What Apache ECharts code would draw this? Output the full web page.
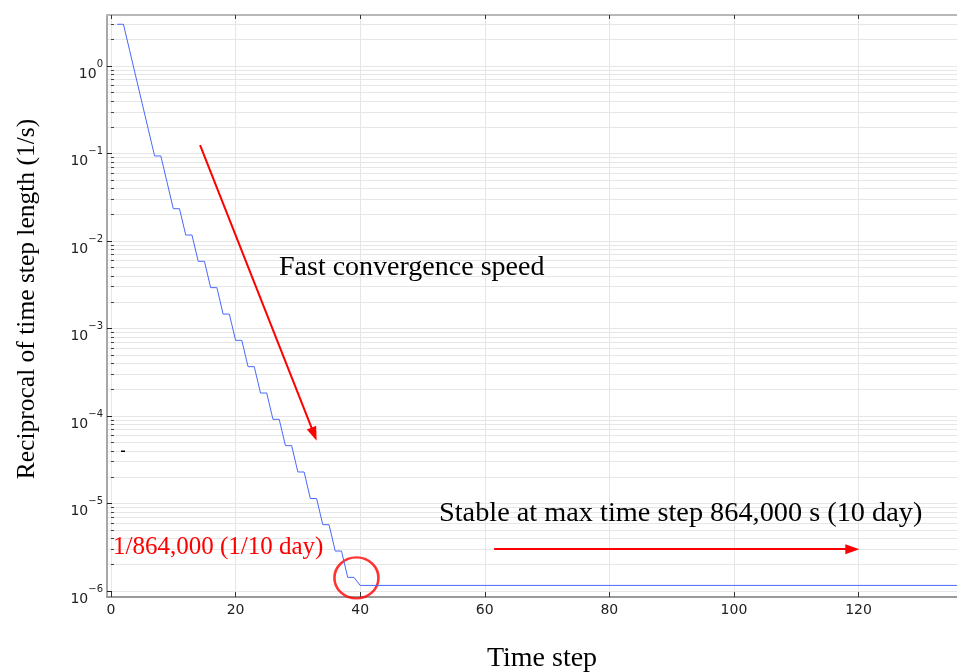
<!DOCTYPE html>
<html><head><meta charset="utf-8">
<script src="https://cdn.jsdelivr.net/npm/echarts@6/dist/echarts.min.js"></script>
<style>html,body{margin:0;padding:0;background:#fff}#c{width:957px;height:672px}</style>
</head><body><div id="c"></div>
<script>
// ---- data ----
const timeSteps = [1,2,3,4,5,6,7,8,9,10,11,12,13,14,15,16,17,18,19,20,21,22,23,24,25,26,27,28,29,30,31,32,33,34,35,36,37,38,39,40,140];
const reciprocalStep = [3,3,1.5,0.75,0.375,0.1875,0.0938,0.0938,0.0469,0.0234,0.0234,0.0117,0.0117,0.00586,0.00586,0.00293,0.00293,0.00146,0.00146,7.32e-4,7.32e-4,3.66e-4,3.66e-4,1.83e-4,1.83e-4,9.16e-5,9.16e-5,4.58e-5,4.58e-5,2.29e-5,2.29e-5,1.14e-5,1.14e-5,5.72e-6,5.72e-6,2.86e-6,2.86e-6,1.43e-6,1.43e-6,1.157e-6,1.157e-6];
const xTickLabels = [0,20,40,60,80,100,120];
const yDecades = [1e-6,1e-5,1e-4,1e-3,1e-2,1e-1,1];
const yMinorMultipliers = [2,3,4,5,6,7,8,9];
const xRange = [-0.64, 135.8];
const yRange = [8.53e-7, 3.83];
// annotations (data coordinates)
const arrowFast = [[14.3, 0.125], [32.6, 6.2e-5]];
const arrowStable = [[61.5, 3.0e-6], [119.0, 3.0e-6]];
const circleCenter = [39.4, 1.41e-6];

const yMinor = [];
yDecades.concat([10]).forEach(d => yMinorMultipliers.forEach(m => { yMinor.push(d * m); }));

const serif = '"Liberation Serif","Times New Roman",serif';
const sans = '"DejaVu Sans",sans-serif';
const chart = echarts.init(document.getElementById('c'), null, {renderer: 'canvas'});
const gridColor = '#e6e6e6';

chart.setOption({
  animation: false,
  backgroundColor: '#fff',
  grid: {left: 107, right: 0, top: 15, bottom: 75, containLabel: false, outerBoundsMode: 'none'},
  xAxis: [{
    type: 'value', min: xRange[0], max: xRange[1], position: 'bottom',
    name: 'Time step', nameLocation: 'middle', nameGap: 48,
    nameTextStyle: {fontFamily: serif, fontSize: 28, color: '#000', padding: [0, 0, 0, 20]},
    axisLine: {show: true, onZero: false, lineStyle: {color: '#9a9a9a', width: 2}},
    axisTick: {show: true, inside: true, length: 5, customValues: xTickLabels, lineStyle: {color: '#333'}},
    axisLabel: {customValues: xTickLabels, fontFamily: sans, fontSize: 14, color: '#222', margin: 6},
    splitLine: {show: true, lineStyle: {color: gridColor}}
  }, {
    type: 'value', min: xRange[0], max: xRange[1], position: 'top',
    axisLine: {show: true, onZero: false, lineStyle: {color: '#b8b8b8', width: 2}},
    axisTick: {show: true, inside: true, length: 4, customValues: xTickLabels, lineStyle: {color: '#333'}},
    axisLabel: {show: false}, splitLine: {show: false}
  }],
  yAxis: [{
    type: 'log', logBase: 10, min: yRange[0], max: yRange[1], position: 'left',
    name: 'Reciprocal of time step length (1/s)', nameLocation: 'middle', nameGap: 67,
    nameTextStyle: {fontFamily: serif, fontSize: 25.5, color: '#000', padding: [0, 0, 0, 14]},
    axisLine: {show: true, onZero: false, lineStyle: {color: '#a8a8a8', width: 2}},
    axisTick: {show: true, inside: true, length: 5, customValues: yDecades, lineStyle: {color: '#222'}},
    axisLabel: {
      customValues: yDecades, margin: 4, padding: [8, 0, 0, 0],
      formatter: v => '{b|10}{s|' + (Math.round(Math.log10(v)) < 0 ? '\u2212' + Math.abs(Math.round(Math.log10(v))) : '0') + '}',
      rich: {
        b: {fontFamily: sans, fontSize: 14, color: '#222', lineHeight: 22, verticalAlign: 'bottom'},
        s: {fontFamily: sans, fontSize: 10, color: '#222', lineHeight: 10, verticalAlign: 'top'}
      }
    },
    splitLine: {show: true, lineStyle: {color: gridColor}}
  }, {
    type: 'log', logBase: 10, min: yRange[0], max: yRange[1], position: 'left',
    axisLine: {show: false},
    axisTick: {show: true, inside: true, length: 3, customValues: yMinor, lineStyle: {color: '#444'}},
    axisLabel: {show: false},
    splitLine: {show: true, lineStyle: {color: gridColor}}
  }],
  graphic: [
    {type: 'text', z: 100, x: 279, y: 267.5, style: {text: 'Fast convergence speed', font: '28px ' + serif, fill: '#000', verticalAlign: 'middle'}},
    {type: 'text', z: 100, x: 439, y: 514, style: {text: 'Stable at max time step 864,000 s (10 day)', font: '28.3px ' + serif, fill: '#000', verticalAlign: 'middle'}},
    {type: 'text', z: 100, x: 113, y: 547, style: {text: '1/864,000 (1/10 day)', font: '25px ' + serif, fill: '#ff0000', verticalAlign: 'middle'}},
    {type: 'rect', z: 100, shape: {x: 121, y: 450.5, width: 4, height: 1.5}, style: {fill: '#000'}}
  ],
  series: [{
    type: 'line', xAxisIndex: 0, yAxisIndex: 0,
    data: timeSteps.map((t, i) => [t, reciprocalStep[i]]),
    showSymbol: false, symbol: 'none', clip: true,
    lineStyle: {color: '#4a68fb', width: 1},
    markLine: {
      silent: true, symbol: ['none', 'triangle'], symbolSize: [10, 14],
      lineStyle: {color: '#ff0000', width: 2, type: 'solid'},
      label: {show: false},
      data: [
        [{coord: arrowFast[0]}, {coord: arrowFast[1]}],
        [{coord: arrowStable[0]}, {coord: arrowStable[1]}]
      ]
    }
  }, {
    type: 'scatter', xAxisIndex: 0, yAxisIndex: 0,
    data: [circleCenter], symbol: 'circle', symbolSize: [44, 41], silent: true,
    itemStyle: {color: 'rgba(0,0,0,0)', borderColor: '#ff0000', borderWidth: 2.5}
  }]
});
</script></body></html>
